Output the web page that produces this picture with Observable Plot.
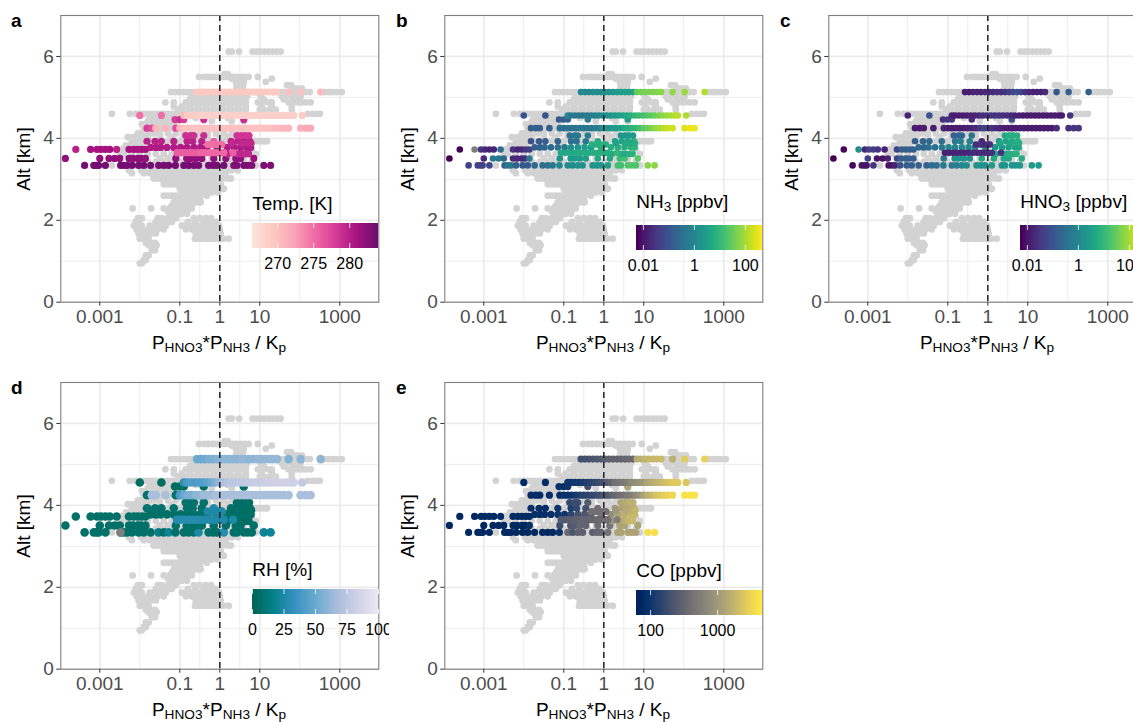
<!DOCTYPE html>
<html><head><meta charset="utf-8">
<script src="https://cdn.jsdelivr.net/npm/d3@7"></script>
<script src="https://cdn.jsdelivr.net/npm/@observablehq/plot@0.6"></script>
<style>
html,body{margin:0;padding:0;background:#fff}
#page{position:relative;width:1133px;height:722px;overflow:hidden;font-family:"Liberation Sans",Arial,sans-serif;color:#000}
#page svg{position:absolute;background:transparent}
.t{position:absolute;white-space:nowrap;line-height:1}
.t sub{font-size:.72em;line-height:0;vertical-align:-.22em}
</style></head><body><div id="page"></div>
<script>
// All x values are log10(P_HNO3*P_NH3/Kp); one entry per altitude level.
const grayAlt = [6.12,5.57,5.5,5.46,5.38,5.3,5.22,5.13,5.03,4.95,4.88,4.78,4.7,4.6,4.5,4.42,4.35,4.25,4.12,4.03,3.93,3.83,3.73,3.62,3.51,3.43,3.34,3.22,3.15,3.09,3.02,2.95,2.88,2.77,2.68,2.6,2.52,2.44,2.36,2.29,2.22,2.16,2.05,1.96,1.87,1.78,1.68,1.55,1.45,1.39,1.27,1.14,1.03,.95];
const grayLog = [
[.22,.3,.48,.82,.92,1.02,1.12,1.22,1.32,1.42,1.52],
[.12,.2],
[-.52,-.38,-.28,-.18,-.08,.02,.12,.22,.32,.42,.52,.62,.72,.95],
[.3,.45,.55,1.3],
[.4,.5,.6,1.15],
[.42,.5,.58,1.68,1.78],
[.42,.5,.58,1.82,1.92,2.05],
[-1.22,-1.12,-1.02,-.92,-.82,-.72,-.62,1.5,1.6,1.85,2.15,2.25,2.62,2.72,2.82,2.92,3.05],
[-.7,-.6,-.5,-.4,-.3,-.2,-.1,0,.1,.2,.3,.4,.5,.6,.68,1.02,1.55,1.65,1.8,1.9,2.02],
[-.75,-.55,-.35,-.15,.05,.25,.45,.65,1.1,1.6,1.85,2],
[-1.36,-1.15,-.85,-.75,-.65,-.55,-.45,-.35,-.25,-.15,-.05,.05,.15,.25,.35,.45,.55,.65,.95,1.05,1.2,1.3,1.72,1.85,1.95,2.05,2.15,2.27],
[-1.15,-.95,-.75,-.55,-.35,-.15,.05,.25,.45,.65,1.05,1.3,1.8],
[-1.05,-.95,-.85,-.75,-.65,-.55,-.45,-.35,-.25,-.15,-.05,.05,.15,.25,.35,.45,.55,.65,1,1.1,1.25,1.4,1.8],
[-2.7,-2.25,-2.1,-2,-1.9,-1.8,-1.7,-1.6,-1.5,-1.4,-1.3,-1.2,-1.1,-1,-.9,2.2,2.32,2.42,2.5],
[-1.75,-1.6,-1.45,-1.3,-1.15,-1,-.6,-.2,.2,.6],
[-1.8,-1.7,-1.6,-1.5,-1.4,-1.3,-1.2,-1.1,-.2,.3,.6],
[-1.95,-1.85,-1.75,-1.65,-1.55,-1.45,-1.35,-1.25,-1.15],
[-1.9,-1.8,-1.7,-1.6,-1.5,-1.4,-1.3,-1.2],
[-2.05,-1.95,-1.85,-1.75,-1.65,-1.5,-1.3,-1.1,-.9,-.7,-.5,-.3,-.1,.1,.3,.6],
[-2.3,-2.2,-2.1,-2,-1.9,-1.8,-1.5,-1.2,-.9,-.6,-.3,0,.2,.4,.6],
[-2.2,-2.1,-2,-1.9,-1.75,-1.3,-1,-.6,-.3,.1,.3,.8,.9,1,1.1,1.18],
[-2.35,-2.25,-2.15,-2.05,-1.95,-1.5,-1,-.5,0,.5],
[-2.45,-2.3,-2.1,-1.6,-.9,-.3,.4,.8],
[-2.5,-2.4,-2.2,-2,-1.8,-1.6,-1.4,-1.2,-1,-.8,-.6,-.4,-.2,0,.2,.4,.7,.9],
[-2.1,-1.5,-1.3,-.2,.3,.6],
[-2.2,-2,-1.8,-1.6,-1.4,-1.2,-1,-.8,-.6,-.4,-.2,0,.2,.4,.6,.8],
[-2.7,-1.6,-1,-.4,.2,.9],
[-2.27,-1.97,-1.8,-1.7,-1.6,-1.5,-1.4,-1.3,-1.2,-1.1,-1,-.9,-.8,-.7,-.6,-.5,-.4,-.3,-.2,-.1,0,.1,.2,.3,.45],
[-2.2,-1.9,-1.75,-1.65,-1.55,-1.45,-1.35,-1.25,-1.15,-1.05,-.95,-.85,-.75,-.65,-.55,-.45,-.35,-.25,-.15,-.05,.05,.15],
[-1.6,-1.5,-1.4,-1.3,-1.2,-1.1,-1,-.9,-.8,-.7,-.6,-.5,-.4,-.3,-.2,-.1,0,.1],
[-1.65,-1.55,-1.45,-1.35,-1.25,-1.15,-1.05,-.95,-.85,-.75,-.65,-.55,-.45,-.35,-.25,-.15,-.05,.05,.18,.28],
[-1.4,-1.25,-1.1,-.95,-.8,-.65,-.5,-.35,-.2,-.05],
[-1.4,-1.3,-1.2,-1.1,-1,-.9,-.8,-.7,-.6,-.5,-.4,-.3,-.2,-.1,.02],
[-1,-.9,-.8,-.7,-.6,-.5,-.4,-.3,-.2,-.1,0,.1],
[-.95,-.8,-.65,-.5,-.35,-.2,-.05],
[-1.4,-1.3,-1.2,-1.1,-1,-.9,-.8,-.7,-.58,-.48,-.32],
[-1.1,-.95,-.8,-.65,-.5],
[-1.15,-1.05,-.95,-.85,-.75,-.65,-.55,-.48],
[-1.2,-1.1,-1,-.9,-.8,-.7],
[-2.18,-1.72,-1.4,-1.25,-1.15,-1.05,-.95,-.85,-.7],
[-1.3,-1.2,-1.1,-1,-.85],
[-1.25,-1.15,-1.05,-.95,-.82],
[-2.05,-1.95,-1.55,-1.45,-1.3,-1.2,-1.1,-.65,-.5,-.35,-.22],
[-2.1,-2.02,-1.6,-1.5,-1.4,-1.3,-1.2,-.8,-.62,-.4,-.25,-.1],
[-2.15,-2.05,-1.95,-1.75,-1.65,-1.55,-1.45,-1.35,-.95,-.85,-.75,-.65,-.55,-.45,-.35,-.25,-.1,-.02],
[-2.08,-1.95,-1.8,-1.7,-1.55,-1.4,-.85,-.7,-.55,-.4,-.25,-.1,0],
[-2.03,-1.93,-1.83,-1.72,-1.6,-.6,-.48,-.38,-.28,-.18,-.08,.02],
[-2,-1.9,-1.78,-.62,-.52,-.42,-.32,-.22,-.12,-.02,.08,.22],
[-1.85,-1.72,-1.62],
[-1.78,-1.68,-1.58],
[-1.7,-1.62],
[-1.85,-1.78],
[-1.9,-1.85],
[-2,-1.95]
];

const rowAlt = [3.34,3.51,3.73,3.78,3.93,4.07,4.46,3.62,3.88,3.65,3.85,4.25,4.56,5.13];
const rowLog = [
[-3.38,-3.15,-3.08,-3.03,-2.86,-2.48,-2.4,-2.32,-2.19,-2.03,-1.9,-1.73,-1.53,-1.4,-1.28,-1.11,-.9,-.78,-.65,-.53,-.28,-.17,-.07,.1,.35,.43,.6,.7,.8,1.1,1.27],
[-3.86,-3,-2.77,-2.63,-2.5,-2.27,-2.17,-2.05,-1.97,-1.86,-1.1,-.83,-.73,-.6,-.45,-.15,.15,.4,.52,.85],
[-3.6,-3.23,-3.07,-2.97,-2.86,-2.75,-2.58,-2.27,-2.15,-2.05,-1.95,-1.86],
[-1.73,-1.6,-1.48,-1.32,-1.15,-.98,-.82,-.65,-.48,-.32,-.07,.18,.35,.52,.68,.77],
[-1.82,-1.62,-1.46,-1.15,-.82,-.68,-.45,-.15,.28,.45,.6,.75],
[-.85,-.73,-.65,-.4,.43,.53,.63,.73],
[-1.12,-1,-.9,-.4,.6],
[.2,.45,.55,.62,.72],
[.3,.55,.7,.78],
[-1.07,-.97,-.87,-.77,-.67,-.57,-.47,-.37,-.27,-.17,-.07,.03,.1,.33],
[-.3,-.15,-.2,-.05,.02,.05],
[-1.82,-1.7,-1.6,-1.36,-1.1,-1,-.9,-.8,-.7,-.6,-.5,-.4,-.3,-.2,-.1,0,.1,.2,.3,.4,.5,.6,.7,.8,.9,1,1.1,1.2,1.3,1.4,1.5,1.6,1.72,2.02,2.15,2.27],
[-2,-1.46,-.9,-.82,-.72,-.62,-.52,-.42,-.32,-.22,-.12,-.02,.08,.18,.28,.38,.48,.58,.68,.78,.88,.98,1.08,1.18,1.28,1.38,1.48,1.58,1.68,1.78,1.85,2.06],
[-.57,-.47,-.37,-.27,-.17,-.07,.03,.13,.23,.33,.43,.53,.63,.73,.83,.93,1.03,1.13,1.23,1.33,1.43,1.72,2.02,2.52]
];
const rowT = [
[283.5,283.5,283.5,283.5,283.5,283.5,283.5,283.5,283.5,283.5,283.5,283.5,283.5,283.5,283.5,283.5,283.5,283.5,283.5,283.5,283.5,283.5,283.5,283.5,283,283,283,283,283,283,283],
[282,282,282,282,282,282,282,282,282,282,282,282,282,282,282,282,282,282,282,281.5],
[280,281,281,281,281,281,280,281,281,281,281,281],
[280.5,280.5,280.5,280.5,280.5,280.5,280.5,280.5,280.5,280.5,280.5,280.5,280.5,280.5,280.5,280.5],
[280,280,280,280,280,280,280,276,280,280,280,280],
[279,279,279,279,278.5,278.5,278.5,278.5],
[278,279,278,279,279],
[279.5,279.5,279.5,279.5,279.5],
[279.5,279.5,279.5,279.5],
[276,276,276,276,276,276,275.5,275.5,275.5,275.5,275.5,275.5,275.5,276],
[275,275,275,275,275,275],
[278,277,271,271,277,271,270,270,270,270,270,270,270,270,270,270,270,270,270,270,270,270,270,270,270,270,270,270,270,270.5,270.5,271,271,271.5,272,272],
[275,275,271,269,269,269,268.5,268.5,268.5,268.5,268.5,268.5,268.5,268.5,268.5,268.5,268.5,268.5,268.5,268.5,268.5,268.5,268.5,268.5,268.5,268.5,268.5,268.5,268.5,268.5,268.5,269],
[269.3,269.3,269.3,269.3,269.3,269.3,269.3,269.3,269.3,269.3,269.3,269.3,269.3,269.3,269.3,269.3,269.3,269.3,269.3,269.3,269.3,270,270,270.5]
];
const rowNH3 = [
[-1.3,-1.3,-1.3,-1.3,-1.2,-.8,-.3,-.3,-.8,-.9,-.9,-.6,-.5,-.4,-.3,0,.1,.1,.2,.2,.3,.3,.3,.45,1.2,1.2,1.3,1.3,1.3,1.8,1.8],
[-2.27,-1.7,-.3,-.3,-.6,-1.7,-1.7,-1.7,-1.6,-.3,.2,.45,.45,.45,.5,.7,.7,1.1,1.2,1.4],
[-2.27,NaN,-1.5,-1.7,-1.8,-1.8,-.5,-1.5,-1.8,-1.7,-1.5,-1.4],
[-.8,-.8,-.6,-.6,-.4,-.3,.2,.3,.45,.45,.8,.8,.85,.85,.9,.95],
[-1,-.9,-.8,-.7,-.5,-.4,-.3,.7,.5,.6,.7,.8],
[-.4,-.3,-.3,-.2,.3,.3,.4,.4],
[-.9,-.8,-.7,-.2,.5],
[.7,.75,.75,.8,.9],
[.6,.7,.7,.8],
[.7,.7,.7,.7,.75,.75,.75,.75,.8,.8,.85,.85,.85,1],
[.8,.85,.8,.85,.9,.85],
[-.8,-.8,-.8,-.8,-.5,-.4,-.4,-.4,-.4,-.35,-.3,-.3,-.25,-.2,-.1,.2,.3,.35,.45,.55,.7,.8,.9,1,1.2,1.4,1.55,1.7,1.85,2,2.15,2.25,2.3,2.4,2.5,2.55],
[-1,-1,0,-.3,-.3,-.3,-.3,-.25,-.2,-.1,0,.1,.2,.3,.4,.5,.6,.7,.85,1,1.1,1.2,1.3,1.4,1.55,1.7,1.8,1.9,2,2.1,2.15,2.05],
[0,.05,.05,.1,.1,.15,.2,.3,.35,.4,.5,.55,.55,.6,1.5,1.6,1.65,1.7,1.7,1.75,1.8,1.85,1.9,2.1]
];
const rowHNO3 = [
[-2.2,-2,-2,-2,-1.5,-2,-2,-1.8,-1,-.8,-.8,-.8,-.8,-.5,-.5,-.3,-.3,-.2,0,.1,.2,.2,.2,.45,.3,.3,.3,.3,.3,.45,.45],
[-2.27,-1.3,-2,-2,-1.8,-1.3,-.8,-.8,-.8,-.8,-.3,.2,.2,.2,.2,.7,.7,.7,.7,.8],
[-2.2,.2,-1.8,-1.3,-1.4,-1.5,-1.8,-1.3,-.8,-.8,-.8,-.8],
[-.6,-.6,-.5,-.5,-.3,0,0,0,0,.1,.2,.3,.4,.5,.6,.6],
[-.8,-.7,-.6,-.5,-.3,-.2,-.1,-1.7,.3,.6,.7,.8],
[-.8,-.7,-.6,-.4,.7,.8,.8,.8],
[-1.6,-1.5,-1.5,-1.7,-1],
[.7,.8,.8,.85,.9],
[.6,.7,.8,.8],
[-1.8,-1.8,-1.8,-1.8,-1.8,-1.75,-1.75,-1.7,-1.7,-1.7,-1.7,-1.6,-1.6,-1.5],
[-1.6,-1.7,-1.6,-1.7,-1.6,-1.6],
[-1.9,-1.9,-1.9,-1.9,-1.8,-1.9,-1.9,-1.9,-1.9,-1.9,-1.8,-1.8,-1.7,-1.5,-1.4,-1.3,-1.5,-1.7,-1.8,-1.9,-1.9,-1.9,-1.9,-1.9,-1.9,-1.9,-1.9,-1.9,-1.9,-1.9,-1.9,-1.9,-1.6,-1.6,-1.5,-1.5],
[-1.8,-1,-1.8,-1.9,-1.9,-1.9,-1.9,-1.8,-1.8,-1.7,-1.6,-1.5,-1.5,-1.5,-1.5,-1.6,-1.6,-1.7,-1.8,-1.8,-1.9,-1.9,-1.9,-1.9,-1.9,-1.9,-1.9,-1.9,-1.9,-1.9,-1.9,-1.5],
[-1.9,-1.9,-1.8,-1.8,-1.8,-1.7,-1.7,-1.7,-1.6,-1.6,-1.5,-1.4,-1.2,-1.1,-1.2,-1.5,-1.7,-1.8,-1.8,-1.8,-1.7,-.9,-.8,-.8]
];
const rowRH = [
[7,7,7,7,7,7,7,7,7,7,7,7,15,7,20,7,7,7,7,25,7,7,7,28,7,7,7,7,7,20,20],
[7,7,7,7,7,7,7,7,7,7,7,7,7,7,7,7,7,7,7,7],
[7,7,7,7,7,7,7,7,7,7,7,7],
[7,7,7,7,7,7,7,7,7,7,7,7,7,7,7,7],
[8,8,8,8,8,8,8,28,8,8,8,8],
[8,8,8,8,6,6,6,6],
[5,5,5,6,6],
[6,6,6,6,6],
[6,6,6,6],
[28,28,28,28,28,28,27,27,27,27,26,26,26,25],
[25,26,25,26,25,26],
[8,68,68,68,8,40,50,55,55,60,60,65,65,65,68,68,68,68,68,68,68,68,68,68,68,68,68,68,68,68,68,68,68,68,68,68],
[5,5,30,40,42,40,42,42,45,50,55,60,68,72,75,75,76,77,78,79,80,80,81,82,82,83,83,83,83,83,83,78],
[52,50,52,55,55,58,58,60,60,60,60,62,62,60,60,62,62,62,62,62,62,58,60,60]
];
const rowCO = [
[1.88,1.88,1.88,1.88,1.88,1.88,1.88,1.88,1.88,1.88,1.88,1.88,1.88,1.88,1.88,1.98,2.54,2.35,2.45,2.45,2.45,2.5,2.5,2.64,3.1,3.1,3.1,3.1,3.1,3.58,3.58],
[1.88,1.88,1.88,1.88,1.88,1.88,1.88,1.88,1.88,1.95,2.26,2.35,2.4,2.5,2.5,2.6,2.65,3.1,3.1,3.1],
[1.85,1.85,1.9,1.9,1.9,1.9,1.9,1.9,1.9,1.9,1.9,1.9],
[1.95,1.95,1.95,1.95,2,2,2.17,2.3,2.35,2.45,2.64,2.9,3.1,3.2,3.25,3.29],
[1.95,1.95,1.95,2,2.1,2.2,2.3,2.6,3,3.1,3.15,3.2],
[2.2,2.25,2.25,2.4,3.1,3.15,3.2,3.2],
[1.95,1.95,2,2.3,3.1],
[3,3.15,3.2,3.25,3.3],
[3,3.15,3.2,3.25],
[2.4,2.4,2.42,2.44,2.46,2.48,2.5,2.5,2.52,2.54,2.56,2.58,2.6,2.75],
[2.6,2.6,2.6,2.62,2.62,2.62],
[1.9,1.9,1.9,1.95,1.95,1.98,1.98,2,2.05,2.1,2.15,2.17,2.2,2.22,2.26,2.35,2.4,2.48,2.55,2.6,2.65,2.7,2.75,2.85,2.95,3.1,3.2,3.25,3.35,3.4,3.45,3.5,3.52,3.6,3.62,3.62],
[1.9,1.9,2,2,2.02,2.04,2.06,2.1,2.15,2.2,2.25,2.3,2.4,2.5,2.6,2.65,2.7,2.75,2.85,2.9,2.95,3,3.1,3.15,3.2,3.25,3.3,3.35,3.4,3.42,3.42,3.4],
[2.26,2.28,2.3,2.33,2.36,2.4,2.45,2.46,2.47,2.48,2.5,2.52,2.54,2.54,3.15,3.2,3.25,3.27,3.28,3.29,3.29,3.2,3.44,3.48]
];

// points with no value for one variable, drawn in darker grey
const naNH3Log = [-3.23], naNH3Alt = [3.73];
const naRHLog = [-2.48], naRHAlt = [3.34];

const xMajor = [0.001,0.1,1,10,1000];
const xMinor = [0.01,0.3162,3.162,100];
const yMajor = [0,2,4,6];
const yMinor = [1,3,5];
const xDomain = [10**-3.975,10**3.975];

const rdPu = ["#fde3da","#fcc8c2","#faa5b6","#f06aa5","#d53a97","#a5127f","#6a0d6f"];
const puBuGnR = ["#016450","#02818a","#3690c0","#67a9cf","#a6bddb","#d0d1e6","#ece7f2"];
const font = '"Liberation Sans",Arial,sans-serif';

const gray = grayAlt.flatMap((alt,i)=>grayLog[i].map(l=>({x:10**l,alt})));
const colored = rowAlt.flatMap((alt,i)=>rowLog[i].map((l,j)=>({x:10**l,alt,T:rowT[i][j],NH3:10**rowNH3[i][j],HNO3:10**rowHNO3[i][j],RH:rowRH[i][j],CO:10**rowCO[i][j]})));

const panels = [
 {id:"a",left:0,top:0,key:"T",r:3.6,title:"Temp. [K]",color:{type:"linear",domain:[266.5,284],interpolate:d3.piecewise(d3.interpolateRgb,rdPu)},ticks:[270,275,280],barTop:223,titleY:204,na:null},
 {id:"b",left:384,top:0,key:"NH3",r:3.3,title:"NH<sub>3</sub> [ppbv]",color:{type:"log",domain:[10**-2.27,10**2.67],scheme:"viridis"},ticks:[0.01,1,100],barTop:225,titleY:202,na:[naNH3Log,naNH3Alt]},
 {id:"c",left:768,top:0,key:"HNO3",r:3.3,title:"HNO<sub>3</sub> [ppbv]",color:{type:"log",domain:[10**-2.27,10**2.67],scheme:"viridis"},ticks:[0.01,1,100],barTop:225,titleY:202,na:null},
 {id:"d",left:0,top:366.6,key:"RH",r:4.3,title:"RH [%]",color:{type:"linear",domain:[0,100],interpolate:d3.piecewise(d3.interpolateRgb,puBuGnR)},ticks:[0,25,50,75,100],barTop:589.3,titleY:570,na:[naRHLog,naRHAlt]},
 {id:"e",left:384,top:366.6,key:"CO",r:3.6,title:"CO [ppbv]",color:{type:"log",domain:[10**1.79,10**3.67],scheme:"cividis"},ticks:[100,1000],barTop:590,titleY:571,na:null}
];
const page = document.getElementById("page");
function label(html,x,y,extra){
  const d=document.createElement("div");d.className="t";d.innerHTML=html;
  d.style.left=x+"px";d.style.top=y+"px";Object.assign(d.style,extra||{});page.append(d);return d;
}
function place(svg,l,t){svg.style.left=l+"px";svg.style.top=t+"px";page.append(svg);}

for(const p of panels){
  const W=389,H=350;
  const marks=[
    Plot.ruleX(xMinor,{stroke:"#ebebeb",strokeWidth:.9}),
    Plot.ruleY(yMinor,{stroke:"#ebebeb",strokeWidth:.9}),
    Plot.ruleX(xMajor,{stroke:"#ebebeb",strokeWidth:1.7}),
    Plot.ruleY(yMajor,{stroke:"#ebebeb",strokeWidth:1.7}),
    Plot.dot(gray,{x:"x",y:"alt",r:3.4,fill:"#d3d3d3"}),
    Plot.dot(colored,{x:"x",y:"alt",r:p.r,fill:p.key})
  ];
  if(p.na) marks.push(Plot.dot(p.na[0],{x:l=>10**l,y:(l,i)=>p.na[1][i],r:p.r,fill:"#7f7f7f"}));
  marks.push(
    Plot.ruleX([1],{stroke:"#222",strokeWidth:1.5,strokeDasharray:"6,4"}),
    Plot.frame({stroke:"#7f7f7f",strokeWidth:1.1}),
    Plot.axisX({ticks:xMajor,tickFormat:d=>String(d),tickSize:4,tickPadding:3,label:null,fill:"#4d4d4d",stroke:"#333"}),
    Plot.axisY({ticks:yMajor,tickFormat:d=>String(d),tickSize:4,tickPadding:3,label:null,fill:"#4d4d4d",stroke:"#333"})
  );
  const svg=Plot.plot({
    width:W,height:H,marginLeft:60.3,marginRight:10.7,marginTop:15,marginBottom:48.3,
    style:{fontFamily:font,fontSize:"19px",background:"transparent"},
    x:{type:"log",domain:xDomain,label:null},
    y:{domain:[0,7],label:null},
    color:p.color,
    marks
  });
  place(svg,p.left,p.top);
  const top=p.top;
  // labels
  label(p.id,p.left+11+(p.id==="a"||p.id==="d"?0:1),top+11,{fontWeight:"bold",fontSize:"19px"});
  label('P<sub>HNO3</sub>*P<sub>NH3</sub> / K<sub>p</sub>',p.left+219,top+333,{fontSize:"19px",transform:"translateX(-50%)"});
  label("Alt [km]",p.left+23,top+159,{fontSize:"19px",transform:"translate(-50%,-50%) rotate(-90deg)"});

  // colour bar
  const barLeft=p.left+252.3;
  const [d0,d1]=p.color.domain;
  const log=p.color.type==="log";
  const f=log?(t=>d0*Math.pow(d1/d0,t)):(t=>d0+(d1-d0)*t);
  const steps=d3.range(80).map(i=>({a:f(i/80),b:f((i+1)/80),c:f((i+.5)/80)}));
  const bar=Plot.plot({
    width:157,height:55,marginLeft:20,marginRight:11,marginTop:0,marginBottom:30,
    style:{fontFamily:font,fontSize:"16px",background:"transparent"},
    x:{type:p.color.type,domain:[d0,d1],label:null},
    y:{domain:[0,1],axis:null},
    color:p.color,
    marks:[
      Plot.rect(steps,{x1:"a",x2:"b",y1:0,y2:1,fill:"c",shapeRendering:"crispEdges"}),
      Plot.ruleX(p.ticks,{y1:0,y2:.2,stroke:"#fff",strokeWidth:.8}),
      Plot.ruleX(p.ticks,{y1:.8,y2:1,stroke:"#fff",strokeWidth:.8}),
      Plot.axisX({ticks:p.ticks,tickFormat:d=>String(d),tickSize:0,tickPadding:9,label:null,fill:"#000"})
    ]
  });
  place(bar,barLeft-20,p.barTop);
  label(p.title,barLeft,p.titleY-10,{fontSize:"19px"});
}
</script></body></html>
